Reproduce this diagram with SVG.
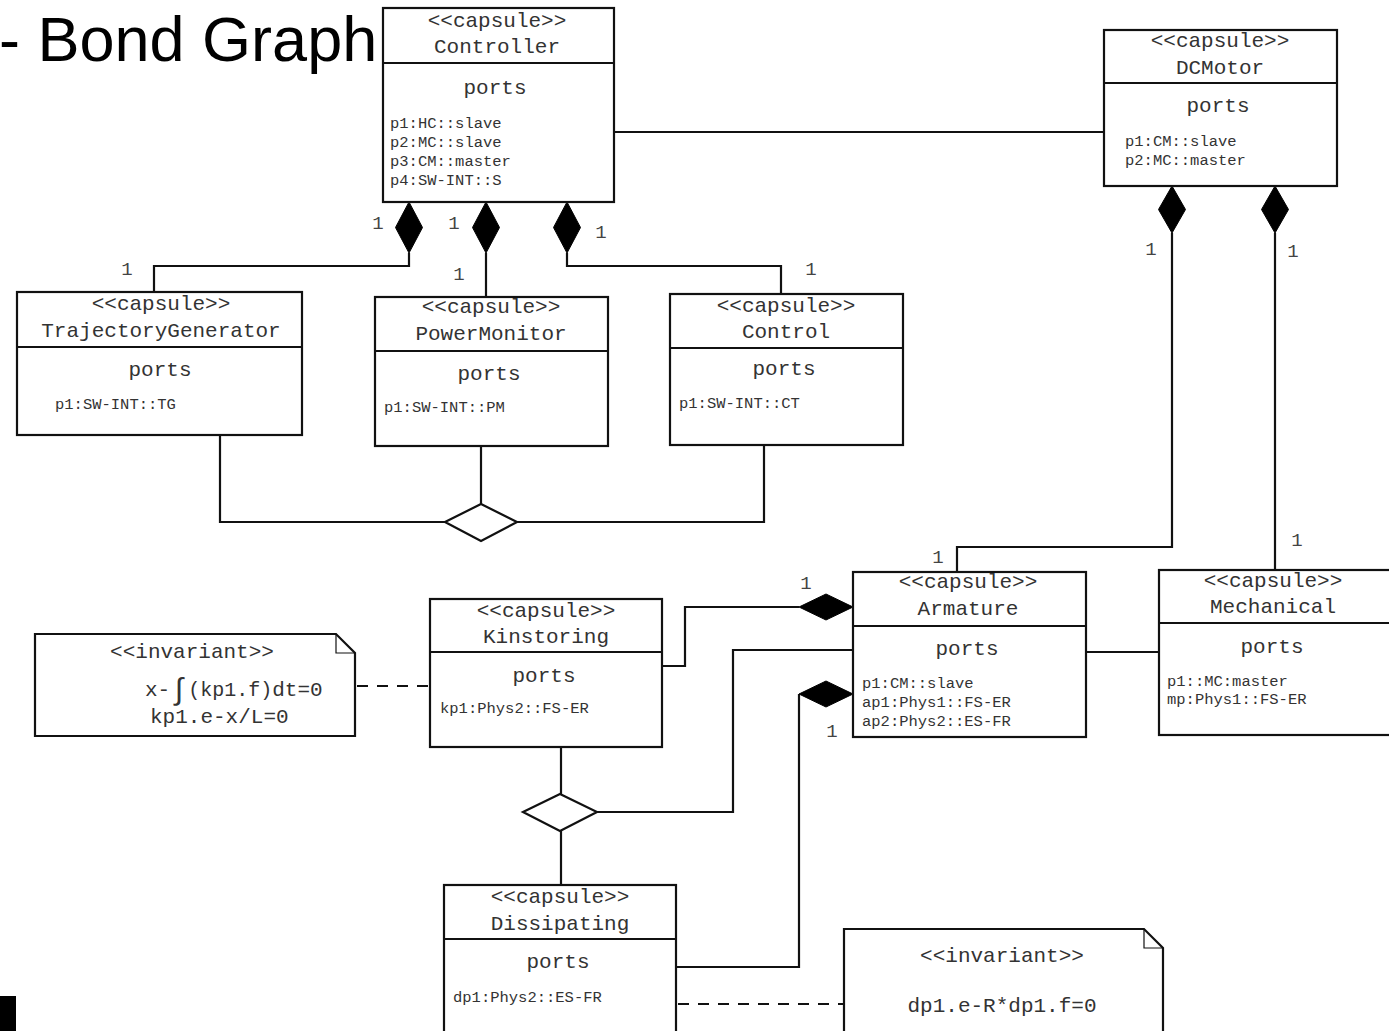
<svg xmlns="http://www.w3.org/2000/svg" width="1389" height="1031" viewBox="0 0 1389 1031">
<style>
.box{fill:#fff;stroke:#111;stroke-width:2.2}
.ln{fill:none;stroke:#111;stroke-width:2.2}
.dash{fill:none;stroke:#111;stroke-width:2.2;stroke-dasharray:11 9}
.comp{fill:#000;stroke:#000;stroke-width:1}
.agg{fill:#fff;stroke:#111;stroke-width:2.2}
.hd{font-family:"Liberation Mono","DejaVu Sans Mono",monospace;font-size:21px;fill:#333;text-anchor:middle}
.pt{font-family:"Liberation Mono","DejaVu Sans Mono",monospace;font-size:15.5px;fill:#333}
.mult{font-family:"Liberation Mono","DejaVu Sans Mono",monospace;font-size:19px;fill:#444;text-anchor:middle}
.title{font-family:"Liberation Sans",Arial,sans-serif;font-size:63px;fill:#000}
</style>

<text class="title" x="-1" y="61">- Bond Graph</text>
<rect x="0" y="996" width="16" height="35" fill="#000"/>

<g id="connectors">
  <line class="ln" x1="614" y1="132" x2="1104" y2="132"/>
  <polyline class="ln" points="409,253 409,266 154,266 154,292"/>
  <line class="ln" x1="486" y1="253" x2="486" y2="297"/>
  <polyline class="ln" points="567,253 567,266 781,266 781,294"/>
  <polyline class="ln" points="220,435 220,522 445,522"/>
  <line class="ln" x1="481" y1="446" x2="481" y2="504"/>
  <polyline class="ln" points="517,522 764,522 764,445"/>
  <polyline class="ln" points="1172,233 1172,547 957,547 957,572"/>
  <line class="ln" x1="1275" y1="233" x2="1275" y2="570"/>
  <line class="ln" x1="1086" y1="652" x2="1159" y2="652"/>
  <polyline class="ln" points="799,607 685,607 685,666 663,666"/>
  <polyline class="ln" points="853,650 733,650 733,812 597,812"/>
  <polyline class="ln" points="799,694 799,967 677,967"/>
  <line class="ln" x1="561" y1="747" x2="561" y2="794"/>
  <line class="ln" x1="561" y1="831" x2="561" y2="885"/>
  <line class="dash" x1="357" y1="686" x2="430" y2="686"/>
  <line class="dash" x1="678" y1="1004" x2="844" y2="1004"/>
  <polygon class="comp" points="409,202 422.5,227.5 409,253 395.5,227.5"/>
  <polygon class="comp" points="486,202 499.5,227.5 486,253 472.5,227.5"/>
  <polygon class="comp" points="567,202 580.5,227.5 567,253 553.5,227.5"/>
  <polygon class="comp" points="1172,186 1185.5,209.5 1172,233 1158.5,209.5"/>
  <polygon class="comp" points="1275,186 1288.5,209.5 1275,233 1261.5,209.5"/>
  <polygon class="comp" points="853,607 826,620 799,607 826,594"/>
  <polygon class="comp" points="853,694 826,707 799,694 826,681"/>
  <polygon class="agg" points="445,522 481,504 517,522 481,541"/>
  <polygon class="agg" points="523,812 560,794 597,812 560,831"/>
  <text class="mult" x="378" y="229">1</text>
  <text class="mult" x="454" y="229">1</text>
  <text class="mult" x="601" y="238">1</text>
  <text class="mult" x="127" y="275">1</text>
  <text class="mult" x="459" y="280">1</text>
  <text class="mult" x="811" y="275">1</text>
  <text class="mult" x="1151" y="255">1</text>
  <text class="mult" x="1293" y="257">1</text>
  <text class="mult" x="938" y="563">1</text>
  <text class="mult" x="1297" y="546">1</text>
  <text class="mult" x="806" y="589">1</text>
  <text class="mult" x="832" y="737">1</text>
</g>

<g id="controller">
  <rect class="box" x="383" y="8" width="231" height="194"/>
  <line class="ln" x1="383" y1="63" x2="614" y2="63"/>
  <text class="hd" x="497" y="27">&lt;&lt;capsule&gt;&gt;</text>
  <text class="hd" x="497" y="53">Controller</text>
  <text class="hd" x="495" y="94">ports</text>
  <text class="pt" x="390" y="128">p1:HC::slave</text>
  <text class="pt" x="390" y="147">p2:MC::slave</text>
  <text class="pt" x="390" y="166">p3:CM::master</text>
  <text class="pt" x="390" y="185">p4:SW-INT::S</text>
</g>

<g id="dcmotor">
  <rect class="box" x="1104" y="30" width="233" height="156"/>
  <line class="ln" x1="1104" y1="83" x2="1337" y2="83"/>
  <text class="hd" x="1220" y="47">&lt;&lt;capsule&gt;&gt;</text>
  <text class="hd" x="1220" y="74">DCMotor</text>
  <text class="hd" x="1218" y="112">ports</text>
  <text class="pt" x="1125" y="146">p1:CM::slave</text>
  <text class="pt" x="1125" y="165">p2:MC::master</text>
</g>

<g id="trajectorygenerator">
  <rect class="box" x="17" y="292" width="285" height="143"/>
  <line class="ln" x1="17" y1="347" x2="302" y2="347"/>
  <text class="hd" x="161" y="310">&lt;&lt;capsule&gt;&gt;</text>
  <text class="hd" x="161" y="337">TrajectoryGenerator</text>
  <text class="hd" x="160" y="376">ports</text>
  <text class="pt" x="55" y="409">p1:SW-INT::TG</text>
</g>

<g id="powermonitor">
  <rect class="box" x="375" y="297" width="233" height="149"/>
  <line class="ln" x1="375" y1="351" x2="608" y2="351"/>
  <text class="hd" x="491" y="313">&lt;&lt;capsule&gt;&gt;</text>
  <text class="hd" x="491" y="340">PowerMonitor</text>
  <text class="hd" x="489" y="380">ports</text>
  <text class="pt" x="384" y="412">p1:SW-INT::PM</text>
</g>

<g id="control">
  <rect class="box" x="670" y="294" width="233" height="151"/>
  <line class="ln" x1="670" y1="348" x2="903" y2="348"/>
  <text class="hd" x="786" y="312">&lt;&lt;capsule&gt;&gt;</text>
  <text class="hd" x="786" y="338">Control</text>
  <text class="hd" x="784" y="375">ports</text>
  <text class="pt" x="679" y="408">p1:SW-INT::CT</text>
</g>

<g id="armature">
  <rect class="box" x="853" y="572" width="233" height="165"/>
  <line class="ln" x1="853" y1="626" x2="1086" y2="626"/>
  <text class="hd" x="968" y="588">&lt;&lt;capsule&gt;&gt;</text>
  <text class="hd" x="968" y="615">Armature</text>
  <text class="hd" x="967" y="655">ports</text>
  <text class="pt" x="862" y="688">p1:CM::slave</text>
  <text class="pt" x="862" y="707">ap1:Phys1::FS-ER</text>
  <text class="pt" x="862" y="726">ap2:Phys2::ES-FR</text>
</g>

<g id="mechanical">
  <rect class="box" x="1159" y="570" width="240" height="165"/>
  <line class="ln" x1="1159" y1="623" x2="1389" y2="623"/>
  <text class="hd" x="1273" y="587">&lt;&lt;capsule&gt;&gt;</text>
  <text class="hd" x="1273" y="613">Mechanical</text>
  <text class="hd" x="1272" y="653">ports</text>
  <text class="pt" x="1167" y="686">p1::MC:master</text>
  <text class="pt" x="1167" y="704">mp:Phys1::FS-ER</text>
</g>

<g id="kinstoring">
  <rect class="box" x="430" y="599" width="232" height="148"/>
  <line class="ln" x1="430" y1="652" x2="662" y2="652"/>
  <text class="hd" x="546" y="617">&lt;&lt;capsule&gt;&gt;</text>
  <text class="hd" x="546" y="643">Kinstoring</text>
  <text class="hd" x="544" y="682">ports</text>
  <text class="pt" x="440" y="713">kp1:Phys2::FS-ER</text>
</g>

<g id="note-kinstoring">
  <path class="box" d="M35,634 L336,634 L355,653 L355,736 L35,736 Z"/>
  <polyline class="ln" points="336,634 336,653 355,653" style="stroke-width:1.2"/>
  <text class="hd" x="192" y="658">&lt;&lt;invariant&gt;&gt;</text>
  <text class="hd" x="145" y="696" style="text-anchor:start">x-<tspan font-size="30" dy="3">∫</tspan><tspan font-size="20" dy="-3">(kp1.f)</tspan>dt=0</text>
  <text class="hd" x="150" y="723" style="text-anchor:start">kp1.e-x/L=0</text>
</g>

<g id="dissipating">
  <rect class="box" x="444" y="885" width="232" height="160"/>
  <line class="ln" x1="444" y1="939" x2="676" y2="939"/>
  <text class="hd" x="560" y="903">&lt;&lt;capsule&gt;&gt;</text>
  <text class="hd" x="560" y="930">Dissipating</text>
  <text class="hd" x="558" y="968">ports</text>
  <text class="pt" x="453" y="1002">dp1:Phys2::ES-FR</text>
</g>

<g id="note-dissipating">
  <path class="box" d="M844,1045 L844,929 L1144,929 L1163,948 L1163,1045"/>
  <polyline class="ln" points="1144,929 1144,948 1163,948" style="stroke-width:1.2"/>
  <text class="hd" x="1002" y="962">&lt;&lt;invariant&gt;&gt;</text>
  <text class="hd" x="1002" y="1012">dp1.e-R*dp1.f=0</text>
</g>
</svg>
